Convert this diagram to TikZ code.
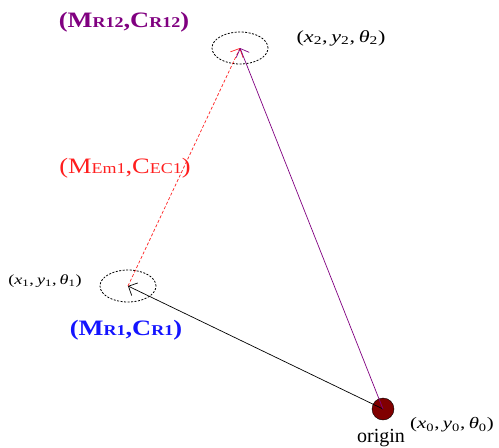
\documentclass[tikz,border=0pt]{standalone}
\usepackage{fontspec}
\setmainfont{Liberation Serif}
\usetikzlibrary{arrows.meta,shapes.geometric}
\definecolor{rpurple}{RGB}{128,0,128}
\definecolor{rred}{RGB}{255,30,30}
\definecolor{rblue}{RGB}{20,20,255}
\definecolor{dotred}{RGB}{128,0,0}
\newcommand{\hs}[2]{\scalebox{#1}[1]{#2}}
\newcommand{\pose}[2]{\fontsize{#2}{#2}\selectfont(\textit{x}\textsubscript{#1},\,\textit{y}\textsubscript{#1},\,\textit{θ}\textsubscript{#1})}
\begin{document}
\begin{tikzpicture}[x=1pt,y=-1pt,
 lbl/.style={inner sep=0pt},
 posebox/.style={ellipse, draw, line width=0.8pt, dash pattern=on 2pt off 1.5pt, minimum width=56pt, minimum height=32pt, inner sep=0pt},
 barb/.style={-{Straight Barb[length=7pt,width=14pt]}, line width=0.7pt}]
\useasboundingbox (0,0) rectangle (499,448);
\node[posebox] (e1) at (128,286) {};
\node[posebox] (e2) at (240,48) {};
\node[circle, fill=dotred, draw=black, minimum size=22pt, inner sep=0pt] (o) at (383,409) {};
\draw[barb] (o.center) -- (e1.center);
\draw[barb, rred, dash pattern=on 3pt off 2pt] (e1.center) -- (e2.center);
\draw[barb, rpurple] (o.center) -- (e2.center);
\node[lbl, text=rpurple] (l12) at (124,22) {\hs{1.2}{\bfseries\fontsize{22}{22}\selectfont(M{\fontsize{15}{15}\selectfont R12},C{\fontsize{15}{15}\selectfont R12})}};
\node[lbl, text=rred] (lem) at (125,168) {\hs{1.2}{\fontsize{22}{22}\selectfont(M{\fontsize{15}{15}\selectfont Em1},C{\fontsize{15}{15}\selectfont EC1})}};
\node[lbl, text=rblue] (l1) at (126,330) {\hs{1.2}{\bfseries\fontsize{22}{22}\selectfont(M{\fontsize{15}{15}\selectfont R1},C{\fontsize{15}{15}\selectfont R1})}};
\node[lbl] (p2) at (341,38) {\hs{1.3}{\pose{2}{17}}};
\node[lbl] (p1) at (45,281) {\hs{1.3}{\pose{1}{14}}};
\node[lbl] (p0) at (452,425) {\hs{1.3}{\pose{0}{16}}};
\node[lbl, anchor=base] (on) at (381,442) {\fontsize{20}{20}\selectfont origin};
\end{tikzpicture}
\end{document}
